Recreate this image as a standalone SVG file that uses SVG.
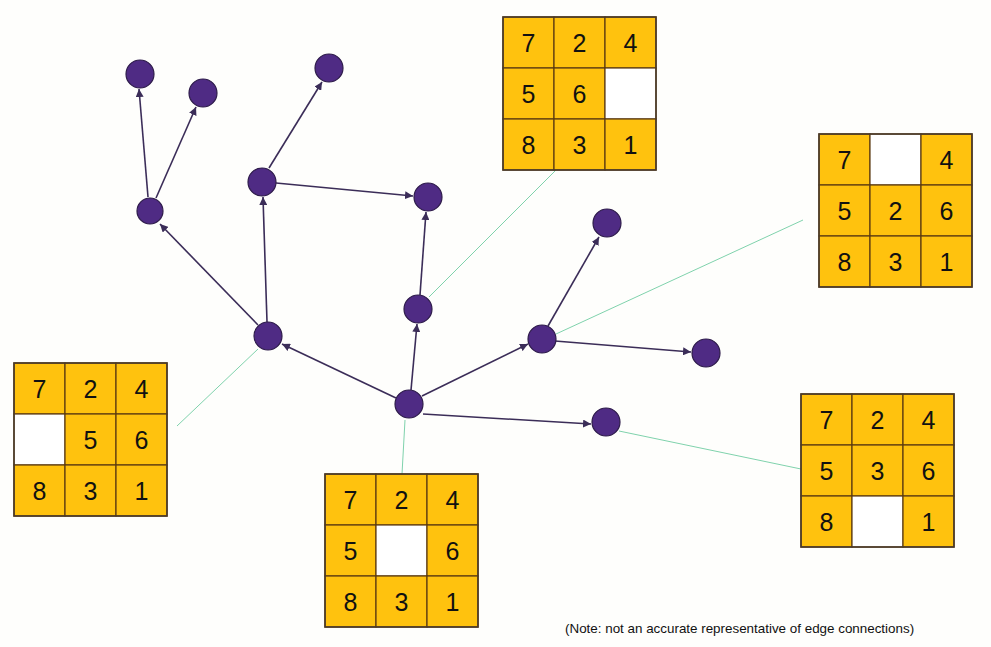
<svg xmlns="http://www.w3.org/2000/svg" width="991" height="647" viewBox="0 0 991 647">
  <style>
    .bg { fill: #fefefc; }
    .node circle { fill: #4f2b84; stroke: #2e1c4a; stroke-width: 1.2; }
    .edge { stroke: #3b2d58; stroke-width: 1.6; fill: none; marker-end: url(#arrow); }
    .link { stroke: #7fd2ac; stroke-width: 1; fill: none; }
    .cell { fill: #ffc20e; stroke: #5b3a12; stroke-width: 1.2; }
    .blank { fill: #ffffff; stroke: #5b3a12; stroke-width: 1.2; }
    .frame { fill: none; stroke: #4a3a2a; stroke-width: 1.6; }
    .num { font-family: "Liberation Sans", Arial, sans-serif; font-size: 25px; fill: #111; text-anchor: middle; dominant-baseline: central; }
    .note { font-family: "Liberation Sans", Arial, sans-serif; font-size: 13.4px; fill: #111; }
  </style>
  <defs>
    <marker id="arrow" viewBox="0 0 10 10" refX="10" refY="5" markerWidth="5" markerHeight="5" orient="auto" markerUnits="strokeWidth">
      <path d="M0,0 L10,5 L0,10 z" fill="#3b2d58"/>
    </marker>
    <!-- one 3x3 puzzle frame, cells filled per board -->
    <g id="board-frame">
      <rect class="frame" x="0" y="0" width="153" height="153"/>
    </g>
  </defs>

  <rect class="bg" x="0" y="0" width="991" height="647"/>

  <!-- thin links from states to their boards -->
  <g id="links">
    <line class="link" x1="405" y1="420" x2="402" y2="474"/>
    <line class="link" x1="258" y1="349" x2="177" y2="426"/>
    <line class="link" x1="429" y1="297" x2="556" y2="170"/>
    <line class="link" x1="556" y1="334" x2="803" y2="220"/>
    <line class="link" x1="619" y1="431" x2="801" y2="469"/>
  </g>

  <!-- directed search edges -->
  <g id="connectors">
    <line class="edge" x1="396" y1="398" x2="282" y2="344"/>
    <line class="edge" x1="411" y1="390" x2="417" y2="324"/>
    <line class="edge" x1="422" y1="396" x2="528" y2="344"/>
    <line class="edge" x1="423" y1="414" x2="591" y2="424"/>
    <line class="edge" x1="258" y1="325" x2="160" y2="224"/>
    <line class="edge" x1="267" y1="322" x2="263" y2="197"/>
    <line class="edge" x1="148" y1="197" x2="139" y2="89"/>
    <line class="edge" x1="156" y1="198" x2="196" y2="107"/>
    <line class="edge" x1="269" y1="168" x2="322" y2="82"/>
    <line class="edge" x1="276" y1="183" x2="413" y2="196"/>
    <line class="edge" x1="420" y1="295" x2="426" y2="212"/>
    <line class="edge" x1="548" y1="326" x2="599" y2="237"/>
    <line class="edge" x1="555" y1="341" x2="691" y2="352"/>
  </g>

  <!-- state nodes -->
  <g id="n-root" class="node"><circle cx="409" cy="404" r="14"/></g>
  <g id="n-b" class="node"><circle cx="268" cy="336" r="14"/></g>
  <g id="n-c" class="node"><circle cx="150" cy="211" r="13"/></g>
  <g id="n-d" class="node"><circle cx="140" cy="74" r="14"/></g>
  <g id="n-e" class="node"><circle cx="203" cy="93" r="14"/></g>
  <g id="n-f" class="node"><circle cx="262" cy="182" r="14"/></g>
  <g id="n-g" class="node"><circle cx="329" cy="68" r="14"/></g>
  <g id="n-h" class="node"><circle cx="428" cy="197" r="14"/></g>
  <g id="n-i" class="node"><circle cx="418" cy="309" r="14"/></g>
  <g id="n-j" class="node"><circle cx="542" cy="339" r="14"/></g>
  <g id="n-k" class="node"><circle cx="607" cy="223" r="14"/></g>
  <g id="n-l" class="node"><circle cx="706" cy="353" r="14"/></g>
  <g id="n-m" class="node"><circle cx="606" cy="422" r="14"/></g>

  <!-- board: blank centre -->
  <g id="board-bottom" transform="translate(325,474)">
    <rect class="cell" x="0" y="0" width="51" height="51"/><text class="num" x="25.5" y="25.5">7</text>
    <rect class="cell" x="51" y="0" width="51" height="51"/><text class="num" x="76.5" y="25.5">2</text>
    <rect class="cell" x="102" y="0" width="51" height="51"/><text class="num" x="127.5" y="25.5">4</text>
    <rect class="cell" x="0" y="51" width="51" height="51"/><text class="num" x="25.5" y="76.5">5</text>
    <rect class="blank" x="51" y="51" width="51" height="51"/>
    <rect class="cell" x="102" y="51" width="51" height="51"/><text class="num" x="127.5" y="76.5">6</text>
    <rect class="cell" x="0" y="102" width="51" height="51"/><text class="num" x="25.5" y="127.5">8</text>
    <rect class="cell" x="51" y="102" width="51" height="51"/><text class="num" x="76.5" y="127.5">3</text>
    <rect class="cell" x="102" y="102" width="51" height="51"/><text class="num" x="127.5" y="127.5">1</text>
    <use href="#board-frame"/>
  </g>

  <!-- board: blank middle-left -->
  <g id="board-left" transform="translate(14,363)">
    <rect class="cell" x="0" y="0" width="51" height="51"/><text class="num" x="25.5" y="25.5">7</text>
    <rect class="cell" x="51" y="0" width="51" height="51"/><text class="num" x="76.5" y="25.5">2</text>
    <rect class="cell" x="102" y="0" width="51" height="51"/><text class="num" x="127.5" y="25.5">4</text>
    <rect class="blank" x="0" y="51" width="51" height="51"/>
    <rect class="cell" x="51" y="51" width="51" height="51"/><text class="num" x="76.5" y="76.5">5</text>
    <rect class="cell" x="102" y="51" width="51" height="51"/><text class="num" x="127.5" y="76.5">6</text>
    <rect class="cell" x="0" y="102" width="51" height="51"/><text class="num" x="25.5" y="127.5">8</text>
    <rect class="cell" x="51" y="102" width="51" height="51"/><text class="num" x="76.5" y="127.5">3</text>
    <rect class="cell" x="102" y="102" width="51" height="51"/><text class="num" x="127.5" y="127.5">1</text>
    <use href="#board-frame"/>
  </g>

  <!-- board: blank middle-right -->
  <g id="board-top" transform="translate(503,17)">
    <rect class="cell" x="0" y="0" width="51" height="51"/><text class="num" x="25.5" y="25.5">7</text>
    <rect class="cell" x="51" y="0" width="51" height="51"/><text class="num" x="76.5" y="25.5">2</text>
    <rect class="cell" x="102" y="0" width="51" height="51"/><text class="num" x="127.5" y="25.5">4</text>
    <rect class="cell" x="0" y="51" width="51" height="51"/><text class="num" x="25.5" y="76.5">5</text>
    <rect class="cell" x="51" y="51" width="51" height="51"/><text class="num" x="76.5" y="76.5">6</text>
    <rect class="blank" x="102" y="51" width="51" height="51"/>
    <rect class="cell" x="0" y="102" width="51" height="51"/><text class="num" x="25.5" y="127.5">8</text>
    <rect class="cell" x="51" y="102" width="51" height="51"/><text class="num" x="76.5" y="127.5">3</text>
    <rect class="cell" x="102" y="102" width="51" height="51"/><text class="num" x="127.5" y="127.5">1</text>
    <use href="#board-frame"/>
  </g>

  <!-- board: blank top-centre -->
  <g id="board-right" transform="translate(819,134)">
    <rect class="cell" x="0" y="0" width="51" height="51"/><text class="num" x="25.5" y="25.5">7</text>
    <rect class="blank" x="51" y="0" width="51" height="51"/>
    <rect class="cell" x="102" y="0" width="51" height="51"/><text class="num" x="127.5" y="25.5">4</text>
    <rect class="cell" x="0" y="51" width="51" height="51"/><text class="num" x="25.5" y="76.5">5</text>
    <rect class="cell" x="51" y="51" width="51" height="51"/><text class="num" x="76.5" y="76.5">2</text>
    <rect class="cell" x="102" y="51" width="51" height="51"/><text class="num" x="127.5" y="76.5">6</text>
    <rect class="cell" x="0" y="102" width="51" height="51"/><text class="num" x="25.5" y="127.5">8</text>
    <rect class="cell" x="51" y="102" width="51" height="51"/><text class="num" x="76.5" y="127.5">3</text>
    <rect class="cell" x="102" y="102" width="51" height="51"/><text class="num" x="127.5" y="127.5">1</text>
    <use href="#board-frame"/>
  </g>

  <!-- board: blank bottom-centre -->
  <g id="board-lower-right" transform="translate(801,394)">
    <rect class="cell" x="0" y="0" width="51" height="51"/><text class="num" x="25.5" y="25.5">7</text>
    <rect class="cell" x="51" y="0" width="51" height="51"/><text class="num" x="76.5" y="25.5">2</text>
    <rect class="cell" x="102" y="0" width="51" height="51"/><text class="num" x="127.5" y="25.5">4</text>
    <rect class="cell" x="0" y="51" width="51" height="51"/><text class="num" x="25.5" y="76.5">5</text>
    <rect class="cell" x="51" y="51" width="51" height="51"/><text class="num" x="76.5" y="76.5">3</text>
    <rect class="cell" x="102" y="51" width="51" height="51"/><text class="num" x="127.5" y="76.5">6</text>
    <rect class="cell" x="0" y="102" width="51" height="51"/><text class="num" x="25.5" y="127.5">8</text>
    <rect class="blank" x="51" y="102" width="51" height="51"/>
    <rect class="cell" x="102" y="102" width="51" height="51"/><text class="num" x="127.5" y="127.5">1</text>
    <use href="#board-frame"/>
  </g>

  <text class="note" x="565" y="633">(Note: not an accurate representative of edge connections)</text>
</svg>
